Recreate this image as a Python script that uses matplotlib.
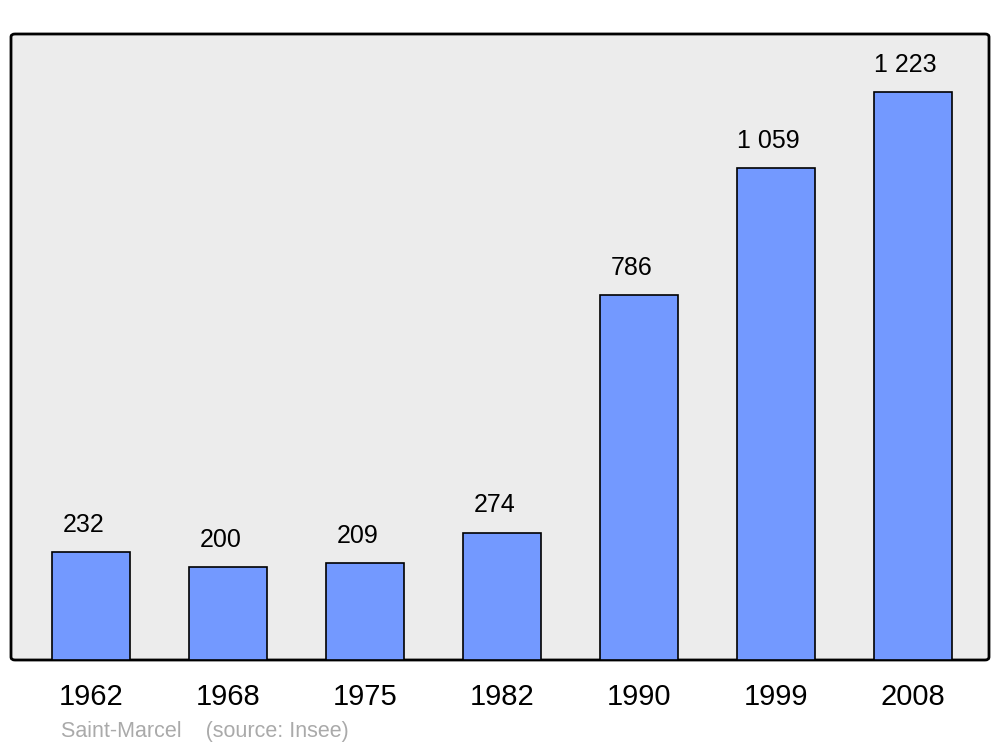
import matplotlib.pyplot as plt
from matplotlib.patches import FancyBboxPatch
import numpy as np

years = ["1962", "1968", "1975", "1982", "1990", "1999", "2008"]
population = [232, 200, 209, 274, 786, 1059, 1223]
value_labels = ["232", "200", "209", "274", "786", "1 059", "1 223"]
footer = "Saint-Marcel    (source: Insee)"

plt.rcParams["font.family"] = ["Liberation Sans", "DejaVu Sans"]

fig = plt.figure(figsize=(10, 7.47), dpi=100)
# axes box in pixels: x 11..989, y 34..660 (from top)
W, H = 1000, 747
ax = fig.add_axes([11 / W, (H - 660) / H, 978 / W, 626 / H])
ax.set_facecolor("none")
ax.set_zorder(2)

frame = FancyBboxPatch(
    (11 / W, (H - 660) / H), 978 / W, 626 / H,
    boxstyle="round,pad=0,rounding_size=0.004",
    transform=fig.transFigure, facecolor="#ececec", edgecolor="black",
    linewidth=2, zorder=0,
)
fig.patches.append(frame)

x = np.arange(len(years))
ax.bar(x, population, width=0.575, color="#7399ff", edgecolor="black",
       linewidth=1.2, zorder=2)

for xi, v, lab in zip(x, population, value_labels):
    ax.annotate(lab, (xi, v), xytext=(-5.5, 11), textcoords="offset points",
                ha="center", va="bottom", fontsize=18)

ax.set_xlim(-0.584, 6.555)
ax.set_ylim(0, 1348)
for s in ax.spines.values():
    s.set_visible(False)
ax.set_yticks([])
ax.set_xticks(x)
ax.set_xticklabels(years, fontsize=21)
ax.tick_params(axis="x", length=0, pad=16.5)

fig.text(61 / W, 1 - 731 / H, footer, fontsize=15.5, color="#aaaaaa",
         ha="left", va="center")

fig.savefig("out.png", dpi=100, facecolor="white")
